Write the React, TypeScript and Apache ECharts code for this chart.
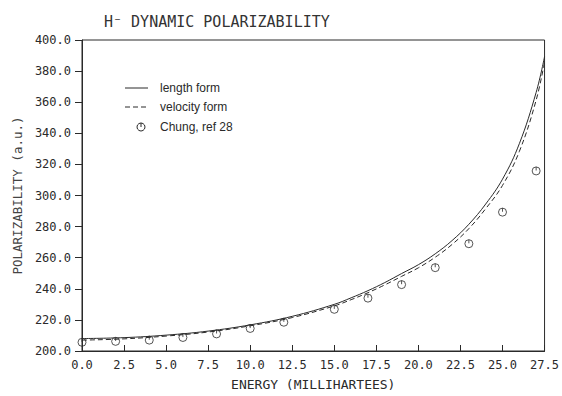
import React, { useEffect, useRef } from "react";
import * as echarts from "echarts";

const xLength = [0, 2.5, 5, 7.5, 10, 12.5, 15, 16, 17, 18, 19, 20, 21, 22, 23, 24, 25, 26, 27, 27.5];
const yLength = [208.0, 208.6, 210.2, 212.8, 216.8, 222.3, 230.0, 234.2, 238.8, 244.0, 249.8, 255.5, 262.5, 271.0, 281.5, 294.5, 310.5, 333.3, 366.3, 389.3];
const xVelocity = [0, 2.5, 5, 7.5, 10, 12.5, 15, 16, 17, 18, 19, 20, 21, 22, 23, 24, 25, 26, 27, 27.5];
const yVelocity = [207.0, 207.8, 209.6, 212.2, 216.2, 221.5, 229.0, 233.0, 237.5, 242.5, 248.0, 253.5, 260.3, 268.5, 278.7, 291.5, 306.5, 328.3, 361.3, 386.0];
const xChung = [0, 2, 4, 6, 8, 10, 12, 15, 17, 19, 21, 23, 25, 27];
const yChung = [205.6, 206.2, 207.0, 208.7, 211.0, 214.5, 218.5, 226.8, 234.0, 242.7, 253.6, 269.0, 289.3, 315.8];

const seriesNames = ["length form", "velocity form", "Chung, ref 28"];
const titleText = "H\u207B DYNAMIC POLARIZABILITY";
const xName = "ENERGY (MILLIHARTEES)";
const yName = "POLARIZABILITY (a.u.)";

const circleSymbol =
  "path://M0,10 A10,10 0 1,1 20,10 A10,10 0 1,1 0,10 Z M10,0 L10,9";

export default function App() {
  const ref = useRef<HTMLDivElement>(null);
  useEffect(() => {
    if (!ref.current) return;
    const chart = echarts.init(ref.current, null, { renderer: "svg" });
    const ink = "#2a2a2a";
    const mono = "'DejaVu Sans Mono', monospace";
    const sans = "'Liberation Sans', Arial, sans-serif";
    const legendX0 = 125;
    const legendX1 = 148;
    const legendTextX = 160;
    const legendY = [88, 107, 127];
    chart.setOption({
      animation: false,
      backgroundColor: "#ffffff",
      title: {
        text: titleText,
        left: 99,
        top: 9,
        textStyle: { fontSize: 15, fontWeight: "normal", color: "#333", fontFamily: mono },
      },
      graphic: [
        { type: "line", shape: { x1: legendX0, y1: legendY[0], x2: legendX1, y2: legendY[0] }, style: { stroke: ink, lineWidth: 1 } },
        { type: "text", x: legendTextX, y: legendY[0], style: { text: seriesNames[0], fill: ink, font: `12px ${sans}`, verticalAlign: "middle" } },
        { type: "line", shape: { x1: legendX0, y1: legendY[1], x2: legendX1, y2: legendY[1] }, style: { stroke: ink, lineWidth: 1, lineDash: [5, 3] } },
        { type: "text", x: legendTextX, y: legendY[1], style: { text: seriesNames[1], fill: ink, font: `12px ${sans}`, verticalAlign: "middle" } },
        { type: "circle", shape: { cx: 141, cy: legendY[2], r: 4 }, style: { stroke: ink, fill: "none", lineWidth: 1 } },
        { type: "line", shape: { x1: 141, y1: legendY[2] - 4, x2: 141, y2: legendY[2] }, style: { stroke: ink, lineWidth: 1 } },
        { type: "text", x: legendTextX, y: legendY[2], style: { text: seriesNames[2], fill: ink, font: `12px ${sans}`, verticalAlign: "middle" } },
      ],
      grid: {
        left: 82,
        right: 8,
        top: 40,
        bottom: 43,
        show: true,
        borderColor: ink,
        borderWidth: 1,
        containLabel: false,
      },
      xAxis: {
        type: "value",
        min: 0,
        max: 27.5,
        interval: 2.5,
        name: xName,
        nameLocation: "middle",
        nameGap: 27,
        nameTextStyle: { fontSize: 13, color: ink, fontFamily: mono },
        axisLine: { show: true, lineStyle: { color: ink, width: 1 } },
        axisTick: { show: true, inside: true, length: 6, lineStyle: { color: ink } },
        axisLabel: {
          margin: 8,
          fontSize: 12,
          color: ink,
          fontFamily: mono,
          formatter: (v: number) => v.toFixed(1),
        },
        splitLine: { show: false },
      },
      yAxis: {
        type: "value",
        min: 200,
        max: 400,
        interval: 20,
        name: yName,
        nameLocation: "middle",
        nameGap: 54,
        nameTextStyle: { fontSize: 12.5, color: "#444", fontFamily: mono },
        axisLine: { show: true, lineStyle: { color: ink, width: 1 } },
        axisTick: { show: true, inside: false, length: 7, lineStyle: { color: ink } },
        axisLabel: {
          margin: 11,
          fontSize: 12,
          color: ink,
          fontFamily: mono,
          formatter: (v: number) => v.toFixed(1),
        },
        splitLine: { show: false },
      },
      series: [
        {
          name: seriesNames[0],
          type: "line",
          data: xLength.map((x, i) => [x, yLength[i]]),
          smooth: 0.4,
          showSymbol: false,
          symbol: "none",
          lineStyle: { color: ink, width: 1, type: "solid" },
          itemStyle: { color: ink },
        },
        {
          name: seriesNames[1],
          type: "line",
          data: xVelocity.map((x, i) => [x, yVelocity[i]]),
          smooth: 0.4,
          showSymbol: false,
          symbol: "none",
          lineStyle: { color: ink, width: 1, type: [5, 3] },
          itemStyle: { color: ink },
        },
        {
          name: seriesNames[2],
          type: "scatter",
          data: xChung.map((x, i) => [x, yChung[i]]),
          symbol: circleSymbol,
          symbolSize: 8,
          itemStyle: { color: "rgba(255,255,255,0)", borderColor: ink, borderWidth: 1 },
        },
      ],
    });
    return () => chart.dispose();
  }, []);
  return <div ref={ref} style={{ position: "fixed", left: 0, top: 0, width: 562, height: 396 }} />;
}
